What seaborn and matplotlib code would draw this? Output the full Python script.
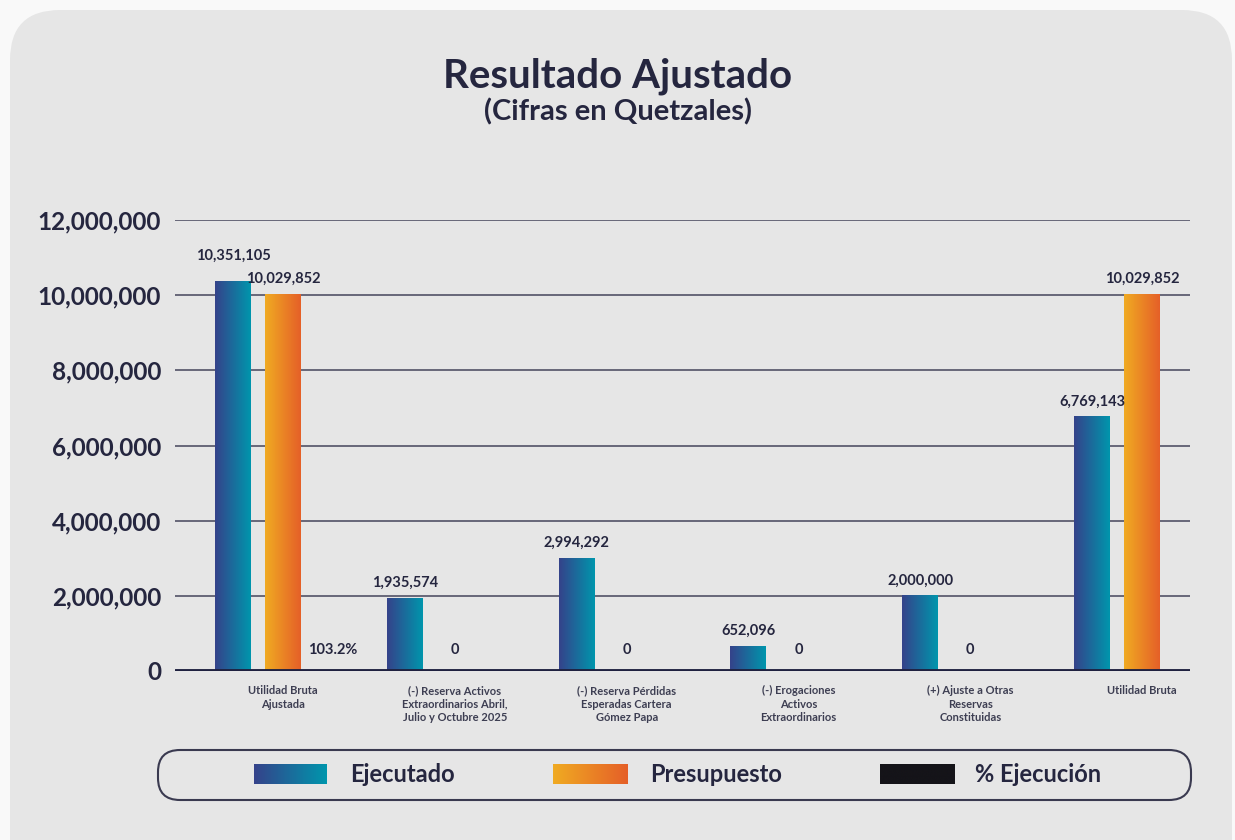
import numpy as np
import pandas as pd
import matplotlib
matplotlib.use("Agg")
import matplotlib.pyplot as plt
from matplotlib.patches import FancyBboxPatch
from matplotlib.colors import LinearSegmentedColormap
import seaborn as sns

# Datos del gráfico
categorias = [
    "Utilidad Bruta\nAjustada",
    "(-) Reserva Activos\nExtraordinarios Abril,\nJulio y Octubre 2025",
    "(-) Reserva Pérdidas\nEsperadas Cartera\nGómez Papa",
    "(-) Erogaciones\nActivos\nExtraordinarios",
    "(+) Ajuste a Otras\nReservas\nConstituidas",
    "Utilidad Bruta",
]
ejecutado = [10351105, 1935574, 2994292, 652096, 2000000, 6769143]
presupuesto = [10029852, 0, 0, 0, 0, 10029852]
pct_ejecucion = [103.2, 0, 0, 0, 0, 67.5]
series = ["Ejecutado", "Presupuesto", "% Ejecución"]
y_ticks = [0, 2000000, 4000000, 6000000, 8000000, 10000000, 12000000]

df = pd.DataFrame({
    "categoria": categorias * 3,
    "serie": np.repeat(series, len(categorias)),
    "valor": ejecutado + presupuesto + pct_ejecucion,
})

# Estilo
sns.set_style("white")
plt.rcParams["font.family"] = ["Lato", "DejaVu Sans"]
TXT = "#25263f"
GRAD_EJE = ("#35428a", "#0096ad")
GRAD_PRE = ("#f0ab22", "#e55f28")

W, H = 1235, 840
fig = plt.figure(figsize=(W / 100, H / 100), dpi=100, facecolor="#f9f9f9")

# Panel de fondo redondeado
bg = fig.add_axes([0, 0, 1, 1], zorder=-10)
bg.set_xlim(0, W)
bg.set_ylim(0, H)
bg.axis("off")
bg.add_patch(FancyBboxPatch((10, -60), 1222, 890, boxstyle="round,pad=0,rounding_size=50",
                            fc="#e6e6e6", ec="none"))

ax = fig.add_axes([175 / W, 169 / H, 1015 / W, 451 / H])
ax.set_facecolor("none")

sns.barplot(data=df, x="categoria", y="valor", hue="serie", hue_order=series,
            palette=["#1f8fa8", "#ea7d25", "#151419"], width=0.873, gap=0.28,
            errorbar=None, legend=False, ax=ax)


def pintar_gradiente(axe, x0, x1, y0, y1, colores, z=2):
    cmap = LinearSegmentedColormap.from_list("g", list(colores))
    grad = np.linspace(0, 1, 256).reshape(1, -1)
    axe.imshow(grad, cmap=cmap, extent=[x0, x1, y0, y1], aspect="auto",
               interpolation="bicubic", zorder=z)


# Barras con degradado y etiquetas
for cont, colores, vals, otros in zip(ax.containers[:2], [GRAD_EJE, GRAD_PRE],
                                      [ejecutado, presupuesto], [presupuesto, ejecutado]):
    for patch, v, o in zip(cont.patches, vals, otros):
        x, w, h = patch.get_x(), patch.get_width(), patch.get_height()
        patch.set_visible(False)
        if h > 0:
            pintar_gradiente(ax, x, x + w, 0, h, colores)
            # subir la etiqueta si choca con la de la barra vecina
            dy = 19 if (v > o and abs(v - o) < 0.06 * v) else 11
            ax.annotate(f"{v:,}", (x + w / 2, h), xytext=(0, dy), textcoords="offset points",
                        ha="center", va="center", fontsize=10.5, fontweight="bold", color=TXT)
        else:
            ax.annotate("0", (x + w / 2, 0), xytext=(0, 15), textcoords="offset points",
                        ha="center", va="center", fontsize=10.5, fontweight="bold", color=TXT)

for patch, v, p in zip(ax.containers[2].patches, pct_ejecucion, presupuesto):
    patch.set_visible(False)
    if p > 0:
        x, w = patch.get_x(), patch.get_width()
        ax.annotate(f"{v:.1f}%", (x + w / 2, 0), xytext=(0, 15), textcoords="offset points",
                    ha="center", va="center", fontsize=10.5, fontweight="bold", color=TXT)

ax.set_xlim(-0.629, 5.279)
ax.set_ylim(0, 12000000)
ax.set_yticks(y_ticks)
ax.set_yticklabels([f"{t:,}" for t in y_ticks], fontsize=17.5, fontweight="bold", color=TXT)
ax.set_xticks(range(len(categorias)))
ax.set_xticklabels(categorias, fontsize=8, fontweight="bold", color="#3d3e52", linespacing=1.3)
ax.tick_params(axis="both", length=0)
ax.tick_params(axis="y", pad=10)
ax.tick_params(axis="x", pad=10)
ax.set_xlabel("")
ax.set_ylabel("")
ax.yaxis.grid(True, color="#5d5d70", linewidth=1.3)
ax.set_axisbelow(True)
sns.despine(ax=ax, left=True, bottom=True)
ax.axhline(0, color="#1f2140", linewidth=3.5, zorder=4)

# Títulos
fig.text(0.5, 1 - 76 / H, "Resultado Ajustado", ha="center", va="center",
         fontsize=29, fontweight="bold", color=TXT)
fig.text(0.5, 1 - 112 / H, "(Cifras en Quetzales)", ha="center", va="center",
         fontsize=21, fontweight="bold", color=TXT)

# Leyenda
lg = fig.add_axes([157 / W, 39 / H, 1035 / W, 52 / H])
lg.set_xlim(0, 1035)
lg.set_ylim(0, 52)
lg.axis("off")
lg.add_patch(FancyBboxPatch((1, 1), 1033, 50, boxstyle="round,pad=0,rounding_size=22",
                            fc="none", ec="#3a3a50", lw=1.5, clip_on=False))
pintar_gradiente(lg, 97, 170, 17, 37, GRAD_EJE)
pintar_gradiente(lg, 396, 471, 17, 37, GRAD_PRE)
pintar_gradiente(lg, 723, 798, 17, 37, ("#151419", "#151419"))
for xt, txt in zip([193, 493, 818], series):
    lg.text(xt, 27, txt, ha="left", va="center", fontsize=17, fontweight="bold", color=TXT)
lg.set_xlim(0, 1035)
lg.set_ylim(0, 52)

fig.savefig("out.png", dpi=100, facecolor=fig.get_facecolor())
